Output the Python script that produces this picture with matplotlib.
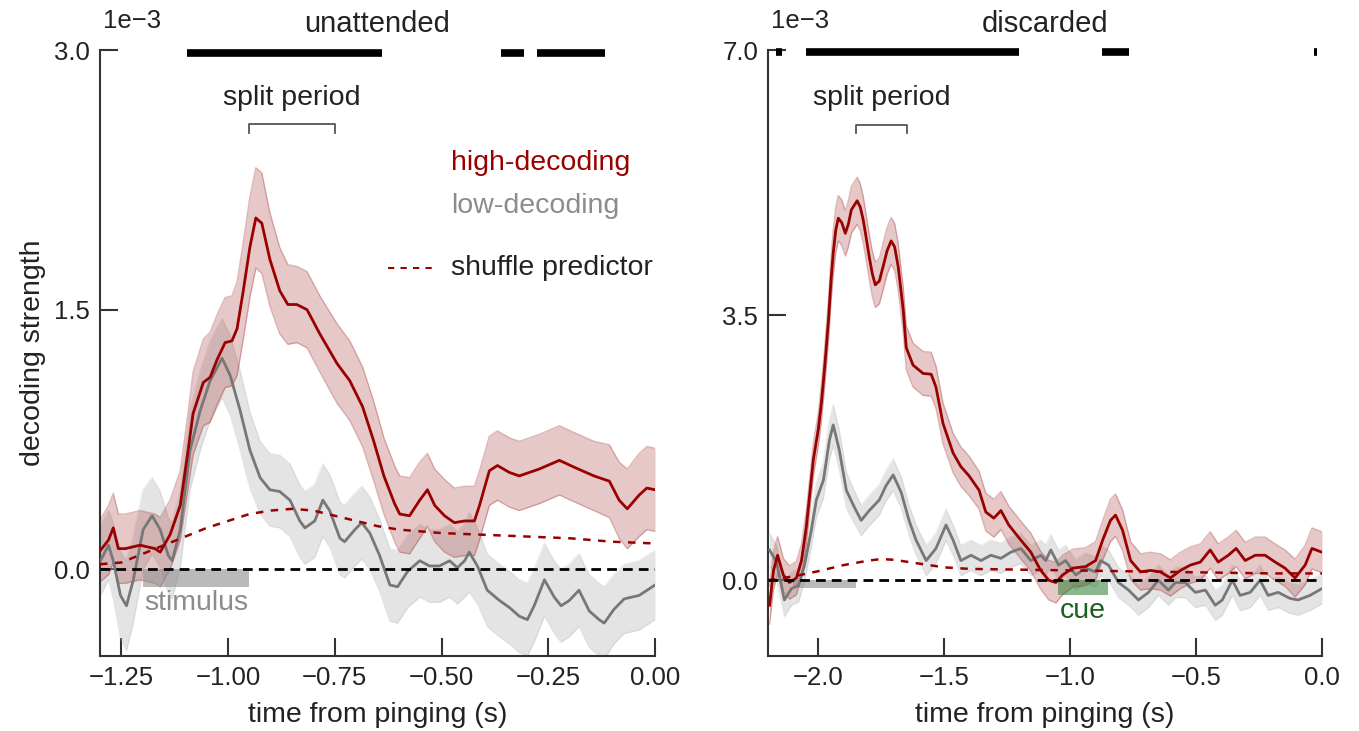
import numpy as np
import matplotlib
matplotlib.use("Agg")
import matplotlib.pyplot as plt

plt.rcParams['font.family'] = ['Liberation Sans', 'DejaVu Sans']

# ---------------- data: left panel (unattended) ----------------
t_high_L = [-1.299, -1.280, -1.269, -1.257, -1.241, -1.206, -1.171, -1.159, -1.136, -1.112,
            -1.093, -1.082, -1.058, -1.042, -1.026, -1.007, -0.991, -0.979, -0.965, -0.949,
            -0.935, -0.921, -0.902, -0.879, -0.860, -0.839, -0.815, -0.785, -0.745, -0.715,
            -0.685, -0.660, -0.635, -0.610, -0.598, -0.575, -0.551, -0.533, -0.516, -0.493,
            -0.470, -0.446, -0.423, -0.411, -0.388, -0.369, -0.341, -0.318, -0.271, -0.224,
            -0.189, -0.143, -0.107, -0.084, -0.065, -0.037, -0.019, 0.0]
v_high_L = [0.11, 0.17, 0.24, 0.12, 0.12, 0.14, 0.12, 0.10, 0.20, 0.37,
            0.70, 0.90, 1.08, 1.11, 1.21, 1.31, 1.32, 1.39, 1.60, 1.86,
            2.03, 2.00, 1.79, 1.61, 1.53, 1.53, 1.50, 1.36, 1.19, 1.09,
            0.94, 0.75, 0.54, 0.38, 0.32, 0.31, 0.40, 0.46, 0.37, 0.31,
            0.27, 0.28, 0.28, 0.37, 0.57, 0.60, 0.56, 0.54, 0.58, 0.63,
            0.59, 0.54, 0.51, 0.40, 0.35, 0.43, 0.47, 0.46]
e_high_L = [0.18, 0.20, 0.20, 0.20, 0.20, 0.20, 0.20, 0.20, 0.20, 0.20,
            0.22, 0.24, 0.25, 0.26, 0.26, 0.26, 0.26, 0.27, 0.28, 0.29,
            0.29, 0.29, 0.27, 0.25, 0.23, 0.22, 0.22, 0.22, 0.23, 0.23,
            0.23, 0.23, 0.22, 0.22, 0.22, 0.22, 0.22, 0.21, 0.21, 0.21,
            0.20, 0.20, 0.20, 0.20, 0.20, 0.20, 0.20, 0.20, 0.20, 0.20,
            0.20, 0.20, 0.21, 0.22, 0.23, 0.24, 0.24, 0.24]

t_low_L = [-1.299, -1.280, -1.269, -1.252, -1.238, -1.222, -1.199, -1.178, -1.159, -1.140,
           -1.131, -1.112, -1.089, -1.065, -1.042, -1.014, -0.995, -0.972, -0.949, -0.925,
           -0.902, -0.879, -0.855, -0.832, -0.820, -0.797, -0.778, -0.762, -0.738, -0.727,
           -0.703, -0.687, -0.668, -0.645, -0.621, -0.603, -0.579, -0.551, -0.528, -0.505,
           -0.481, -0.463, -0.446, -0.435, -0.416, -0.393, -0.364, -0.341, -0.318, -0.299,
           -0.283, -0.259, -0.236, -0.220, -0.201, -0.178, -0.154, -0.131, -0.119, -0.096,
           -0.072, -0.037, 0.0]
v_low_L = [0.05, 0.14, 0.05, -0.15, -0.21, -0.06, 0.23, 0.31, 0.23, 0.08,
           0.05, 0.23, 0.69, 0.92, 1.09, 1.22, 1.12, 0.92, 0.69, 0.53,
           0.46, 0.45, 0.40, 0.28, 0.24, 0.28, 0.40, 0.34, 0.18, 0.16,
           0.23, 0.27, 0.21, 0.08, -0.09, -0.10, -0.01, 0.05, 0.02, 0.02,
           0.05, 0.01, 0.05, 0.10, 0.02, -0.12, -0.18, -0.22, -0.27, -0.29,
           -0.21, -0.06, -0.16, -0.21, -0.18, -0.12, -0.24, -0.29, -0.31, -0.23,
           -0.17, -0.15, -0.09]
e_low_L = [0.20, 0.20, 0.22, 0.25, 0.26, 0.25, 0.23, 0.22, 0.22, 0.22,
           0.22, 0.22, 0.23, 0.23, 0.23, 0.23, 0.23, 0.23, 0.22, 0.21,
           0.21, 0.21, 0.21, 0.21, 0.21, 0.21, 0.21, 0.21, 0.21, 0.21,
           0.21, 0.21, 0.21, 0.21, 0.21, 0.21, 0.21, 0.21, 0.21, 0.21,
           0.21, 0.21, 0.21, 0.23, 0.22, 0.21, 0.21, 0.21, 0.21, 0.21,
           0.21, 0.21, 0.21, 0.21, 0.21, 0.21, 0.21, 0.21, 0.21, 0.20,
           0.20, 0.20, 0.20]

t_shuf_L = [-1.30, -1.25, -1.20, -1.15, -1.10, -1.05, -1.00, -0.95, -0.90, -0.85,
            -0.80, -0.75, -0.70, -0.65, -0.60, -0.50, -0.40, -0.30, -0.20, -0.10, 0.0]
v_shuf_L = [0.03, 0.04, 0.09, 0.14, 0.19, 0.24, 0.28, 0.32, 0.34, 0.35,
            0.34, 0.31, 0.28, 0.25, 0.23, 0.21, 0.20, 0.19, 0.18, 0.16, 0.15]

sig_L = [(-1.096, -0.640), (-0.360, -0.306), (-0.276, -0.117)]
split_L = (-0.95, -0.75)
stim_L = (-1.2, -0.95)

# ---------------- data: right panel (discarded) ----------------
t_high_R = [-2.194, -2.178, -2.162, -2.139, -2.115, -2.087, -2.067, -2.048, -2.020, -2.000,
            -1.988, -1.974, -1.960, -1.950, -1.941, -1.931, -1.921, -1.907, -1.893, -1.881,
            -1.869, -1.846, -1.834, -1.822, -1.810, -1.798, -1.786, -1.774, -1.758, -1.743,
            -1.727, -1.711, -1.697, -1.683, -1.663, -1.651, -1.624, -1.584, -1.552, -1.533,
            -1.505, -1.465, -1.434, -1.402, -1.362, -1.335, -1.303, -1.275, -1.244, -1.196,
            -1.156, -1.117, -1.085, -1.057, -1.030, -0.990, -0.939, -0.899, -0.871, -0.840,
            -0.820, -0.792, -0.760, -0.721, -0.681, -0.642, -0.602, -0.562, -0.523, -0.483,
            -0.444, -0.412, -0.372, -0.341, -0.305, -0.265, -0.226, -0.186, -0.147, -0.107,
            -0.067, -0.040, 0.0]
v_high_R = [-0.33, 0.13, 0.33, 0.07, -0.03, 0.03, 0.26, 0.70, 1.59, 2.00,
            2.34, 2.85, 3.43, 3.95, 4.32, 4.62, 4.78, 4.72, 4.58, 4.70,
            4.89, 5.01, 4.93, 4.76, 4.52, 4.27, 4.05, 3.90, 3.95, 4.14,
            4.35, 4.48, 4.40, 4.14, 3.57, 3.07, 2.84, 2.73, 2.72, 2.55,
            2.07, 1.68, 1.50, 1.38, 1.19, 0.90, 0.82, 0.92, 0.73, 0.53,
            0.37, 0.13, 0.00, -0.03, 0.07, 0.16, 0.18, 0.26, 0.53, 0.79,
            0.86, 0.66, 0.26, 0.11, 0.13, 0.11, 0.03, 0.13, 0.20, 0.24,
            0.40, 0.24, 0.33, 0.42, 0.26, 0.33, 0.33, 0.24, 0.16, 0.03,
            0.20, 0.42, 0.37]
e_high_R = [0.25, 0.25, 0.25, 0.22, 0.22, 0.22, 0.22, 0.22, 0.22, 0.22,
            0.24, 0.26, 0.28, 0.29, 0.30, 0.30, 0.30, 0.30, 0.30, 0.30,
            0.31, 0.31, 0.31, 0.31, 0.30, 0.30, 0.30, 0.30, 0.30, 0.31,
            0.31, 0.31, 0.31, 0.31, 0.30, 0.29, 0.29, 0.29, 0.29, 0.28,
            0.27, 0.26, 0.26, 0.26, 0.25, 0.25, 0.25, 0.25, 0.25, 0.25,
            0.25, 0.25, 0.26, 0.27, 0.26, 0.25, 0.25, 0.25, 0.26, 0.28,
            0.28, 0.27, 0.25, 0.24, 0.24, 0.24, 0.24, 0.24, 0.24, 0.24,
            0.24, 0.24, 0.24, 0.24, 0.24, 0.24, 0.24, 0.24, 0.24, 0.25,
            0.26, 0.27, 0.27]

t_low_R = [-2.194, -2.166, -2.135, -2.107, -2.079, -2.055, -2.028, -2.008, -1.980, -1.956,
           -1.941, -1.917, -1.889, -1.861, -1.830, -1.798, -1.758, -1.731, -1.703, -1.671,
           -1.640, -1.612, -1.572, -1.533, -1.493, -1.465, -1.434, -1.394, -1.354, -1.315,
           -1.275, -1.236, -1.196, -1.156, -1.117, -1.097, -1.077, -1.046, -1.018, -0.978,
           -0.939, -0.899, -0.879, -0.848, -0.808, -0.768, -0.729, -0.689, -0.650, -0.610,
           -0.582, -0.543, -0.503, -0.463, -0.424, -0.396, -0.356, -0.325, -0.285, -0.246,
           -0.214, -0.174, -0.127, -0.095, -0.048, 0.0]
v_low_R = [0.40, 0.24, -0.26, -0.11, -0.07, 0.20, 0.66, 1.06, 1.32, 1.85,
           2.05, 1.72, 1.19, 0.99, 0.79, 0.92, 1.06, 1.25, 1.39, 1.16,
           0.79, 0.53, 0.26, 0.42, 0.73, 0.53, 0.26, 0.33, 0.26, 0.33,
           0.29, 0.37, 0.42, 0.26, 0.33, 0.26, 0.40, 0.20, 0.26, 0.07,
           0.16, 0.11, 0.26, 0.20, -0.03, -0.13, -0.26, -0.16, 0.00, -0.13,
           -0.03, -0.03, -0.16, -0.13, -0.33, -0.26, 0.00, -0.20, -0.16, 0.00,
           -0.20, -0.16, -0.24, -0.26, -0.20, -0.11]
e_low_R = [0.22, 0.22, 0.22, 0.22, 0.22, 0.22, 0.22, 0.23, 0.24, 0.26,
           0.27, 0.26, 0.24, 0.22, 0.20, 0.20, 0.20, 0.20, 0.21, 0.21,
           0.20, 0.20, 0.20, 0.20, 0.21, 0.20, 0.20, 0.20, 0.20, 0.20,
           0.20, 0.20, 0.20, 0.20, 0.20, 0.20, 0.20, 0.20, 0.20, 0.20,
           0.20, 0.20, 0.20, 0.20, 0.20, 0.20, 0.20, 0.20, 0.20, 0.20,
           0.20, 0.20, 0.20, 0.20, 0.20, 0.20, 0.20, 0.20, 0.20, 0.20,
           0.20, 0.20, 0.20, 0.20, 0.20, 0.20]

t_shuf_R = [-2.20, -2.10, -2.00, -1.90, -1.80, -1.75, -1.70, -1.60, -1.50, -1.40,
            -1.20, -1.00, -0.80, -0.60, -0.40, -0.20, 0.0]
v_shuf_R = [0.00, 0.05, 0.12, 0.20, 0.26, 0.28, 0.27, 0.22, 0.17, 0.15,
            0.14, 0.13, 0.12, 0.11, 0.10, 0.09, 0.09]

sig_R = [(-2.170, -2.143), (-2.048, -1.204), (-0.875, -0.768), (-0.032, -0.020)]
split_R = (-1.85, -1.65)
stim_R = (-2.1, -1.85)
cue_R = (-1.05, -0.85)

SCALE = 1e-3
RED = '#990000'
GRAY_LINE = '#777777'
TXT = '#222222'

fig = plt.figure(figsize=(13.59, 7.31), dpi=100)
axL = fig.add_axes([100/1359, 1-656/731, 555/1359, 606/731])
axR = fig.add_axes([768/1359, 1-656/731, 554/1359, 606/731])


def draw_series(ax, t, v, e, line_color, fill_color, alpha, edge_alpha):
    t = np.asarray(t); v = np.asarray(v) * SCALE; e = np.asarray(e) * SCALE
    ax.fill_between(t, v - e, v + e, color=fill_color, alpha=alpha, lw=0, zorder=2)
    ax.plot(t, v - e, color=fill_color, alpha=edge_alpha, lw=1, zorder=2,
            solid_joinstyle='round')
    ax.plot(t, v + e, color=fill_color, alpha=edge_alpha, lw=1, zorder=2,
            solid_joinstyle='round')
    ax.plot(t, v, color=line_color, lw=2.0, zorder=4, solid_joinstyle='round')


def style(ax, xlim, ylim, xticks, yticks, title):
    ax.set_xlim(*xlim)
    ax.set_ylim(*ylim)
    ax.set_xticks(xticks)
    ax.set_yticks(yticks)
    for s in ['top', 'right']:
        ax.spines[s].set_visible(False)
    for s in ['left', 'bottom']:
        ax.spines[s].set_color('#333333')
        ax.spines[s].set_linewidth(1.5)
    ax.tick_params(direction='in', length=13, width=1.5, color='#333333',
                   labelsize=18.5, labelcolor=TXT, pad=7)
    ax.ticklabel_format(axis='y', style='sci', scilimits=(-3, -3))
    ax.yaxis.get_offset_text().set_visible(False)
    ax.text(0.006, 1.036, '1e\u22123', transform=ax.transAxes, ha='left',
            va='baseline', fontsize=18.5, color=TXT)
    ax.set_xlabel('time from pinging (s)', fontsize=20.5, color=TXT, labelpad=9)
    ax.set_title(title, fontsize=21, color=TXT, pad=13)


def sig_bars(ax, segs, y):
    for a, b in segs:
        ax.plot([a, b], [y, y], color='black', lw=5.5, solid_capstyle='butt',
                clip_on=False, zorder=6)


def bracket(ax, span, y_top, y_leg, y_text):
    a, b = span
    ax.plot([a, a, b, b], [y_leg, y_top, y_top, y_leg], color='#555555', lw=1.3,
            clip_on=False, zorder=5)
    ax.text((a + b) / 2, y_text, 'split period', ha='center', va='bottom',
            fontsize=20.5, color=TXT)


# ---------------- left panel ----------------
ax = axL
draw_series(ax, t_low_L, v_low_L, e_low_L, GRAY_LINE, '#b4b4b4', 0.35, 0.25)
draw_series(ax, t_high_L, v_high_L, e_high_L, RED, '#a83a3a', 0.28, 0.35)
ax.plot(t_shuf_L, np.asarray(v_shuf_L) * SCALE, color=RED, lw=1.8,
        linestyle=(0, (3, 3)), zorder=5)
ax.axhline(0, color='black', lw=2.0, linestyle=(0, (3.5, 2.2)), zorder=6)
ax.add_patch(plt.Rectangle((stim_L[0], -0.1 * SCALE), stim_L[1] - stim_L[0], 0.1 * SCALE,
                           facecolor='#8c8c8c', alpha=0.6, lw=0, zorder=3))
ax.text(sum(stim_L) / 2, -0.12 * SCALE, 'stimulus', ha='center', va='top',
        fontsize=20.5, color='#8c8c8c', zorder=7)
style(ax, (-1.3, 0.0), (-0.5 * SCALE, 3.0 * SCALE),
      [-1.25, -1.0, -0.75, -0.5, -0.25, 0.0], [0.0, 1.5 * SCALE, 3.0 * SCALE], 'unattended')
ax.set_ylabel('decoding strength', fontsize=20.5, color=TXT, labelpad=6)
sig_bars(ax, sig_L, 2.985 * SCALE)
bracket(ax, split_L, 2.57 * SCALE, 2.52 * SCALE, 2.65 * SCALE)

# legend-like labels
ax.text(-0.477, 2.35 * SCALE, 'high-decoding', color=RED, fontsize=20.5, va='center')
ax.text(-0.477, 2.10 * SCALE, 'low-decoding', color='#8c8c8c', fontsize=20.5, va='center')
ax.plot([-0.626, -0.523], [1.74 * SCALE, 1.74 * SCALE], color=RED, lw=1.5,
        linestyle=(0, (3, 3)))
ax.text(-0.477, 1.74 * SCALE, 'shuffle predictor', color=TXT, fontsize=20.5, va='center')

# ---------------- right panel ----------------
ax = axR
draw_series(ax, t_low_R, v_low_R, e_low_R, GRAY_LINE, '#b4b4b4', 0.35, 0.25)
draw_series(ax, t_high_R, v_high_R, e_high_R, RED, '#a83a3a', 0.28, 0.35)
ax.plot(t_shuf_R, np.asarray(v_shuf_R) * SCALE, color=RED, lw=1.8,
        linestyle=(0, (3, 3)), zorder=5)
ax.axhline(0, color='black', lw=2.0, linestyle=(0, (3.5, 2.2)), zorder=6)
ax.add_patch(plt.Rectangle((stim_R[0], -0.1 * SCALE), stim_R[1] - stim_R[0], 0.1 * SCALE,
                           facecolor='#8c8c8c', alpha=0.6, lw=0, zorder=3))
ax.add_patch(plt.Rectangle((cue_R[0], -0.2 * SCALE), cue_R[1] - cue_R[0], 0.2 * SCALE,
                           facecolor='#2e7d32', alpha=0.55, lw=0, zorder=3))
ax.text(sum(cue_R) / 2, -0.23 * SCALE, 'cue', ha='center', va='top',
        fontsize=20.5, color='#1b5e20', zorder=7)
style(ax, (-2.2, 0.0), (-1.0 * SCALE, 7.0 * SCALE),
      [-2.0, -1.5, -1.0, -0.5, 0.0], [0.0, 3.5 * SCALE, 7.0 * SCALE], 'discarded')
sig_bars(ax, sig_R, 6.97 * SCALE)
bracket(ax, split_R, 6.01 * SCALE, 5.90 * SCALE, 6.20 * SCALE)

fig.savefig('out.png', dpi=100)
